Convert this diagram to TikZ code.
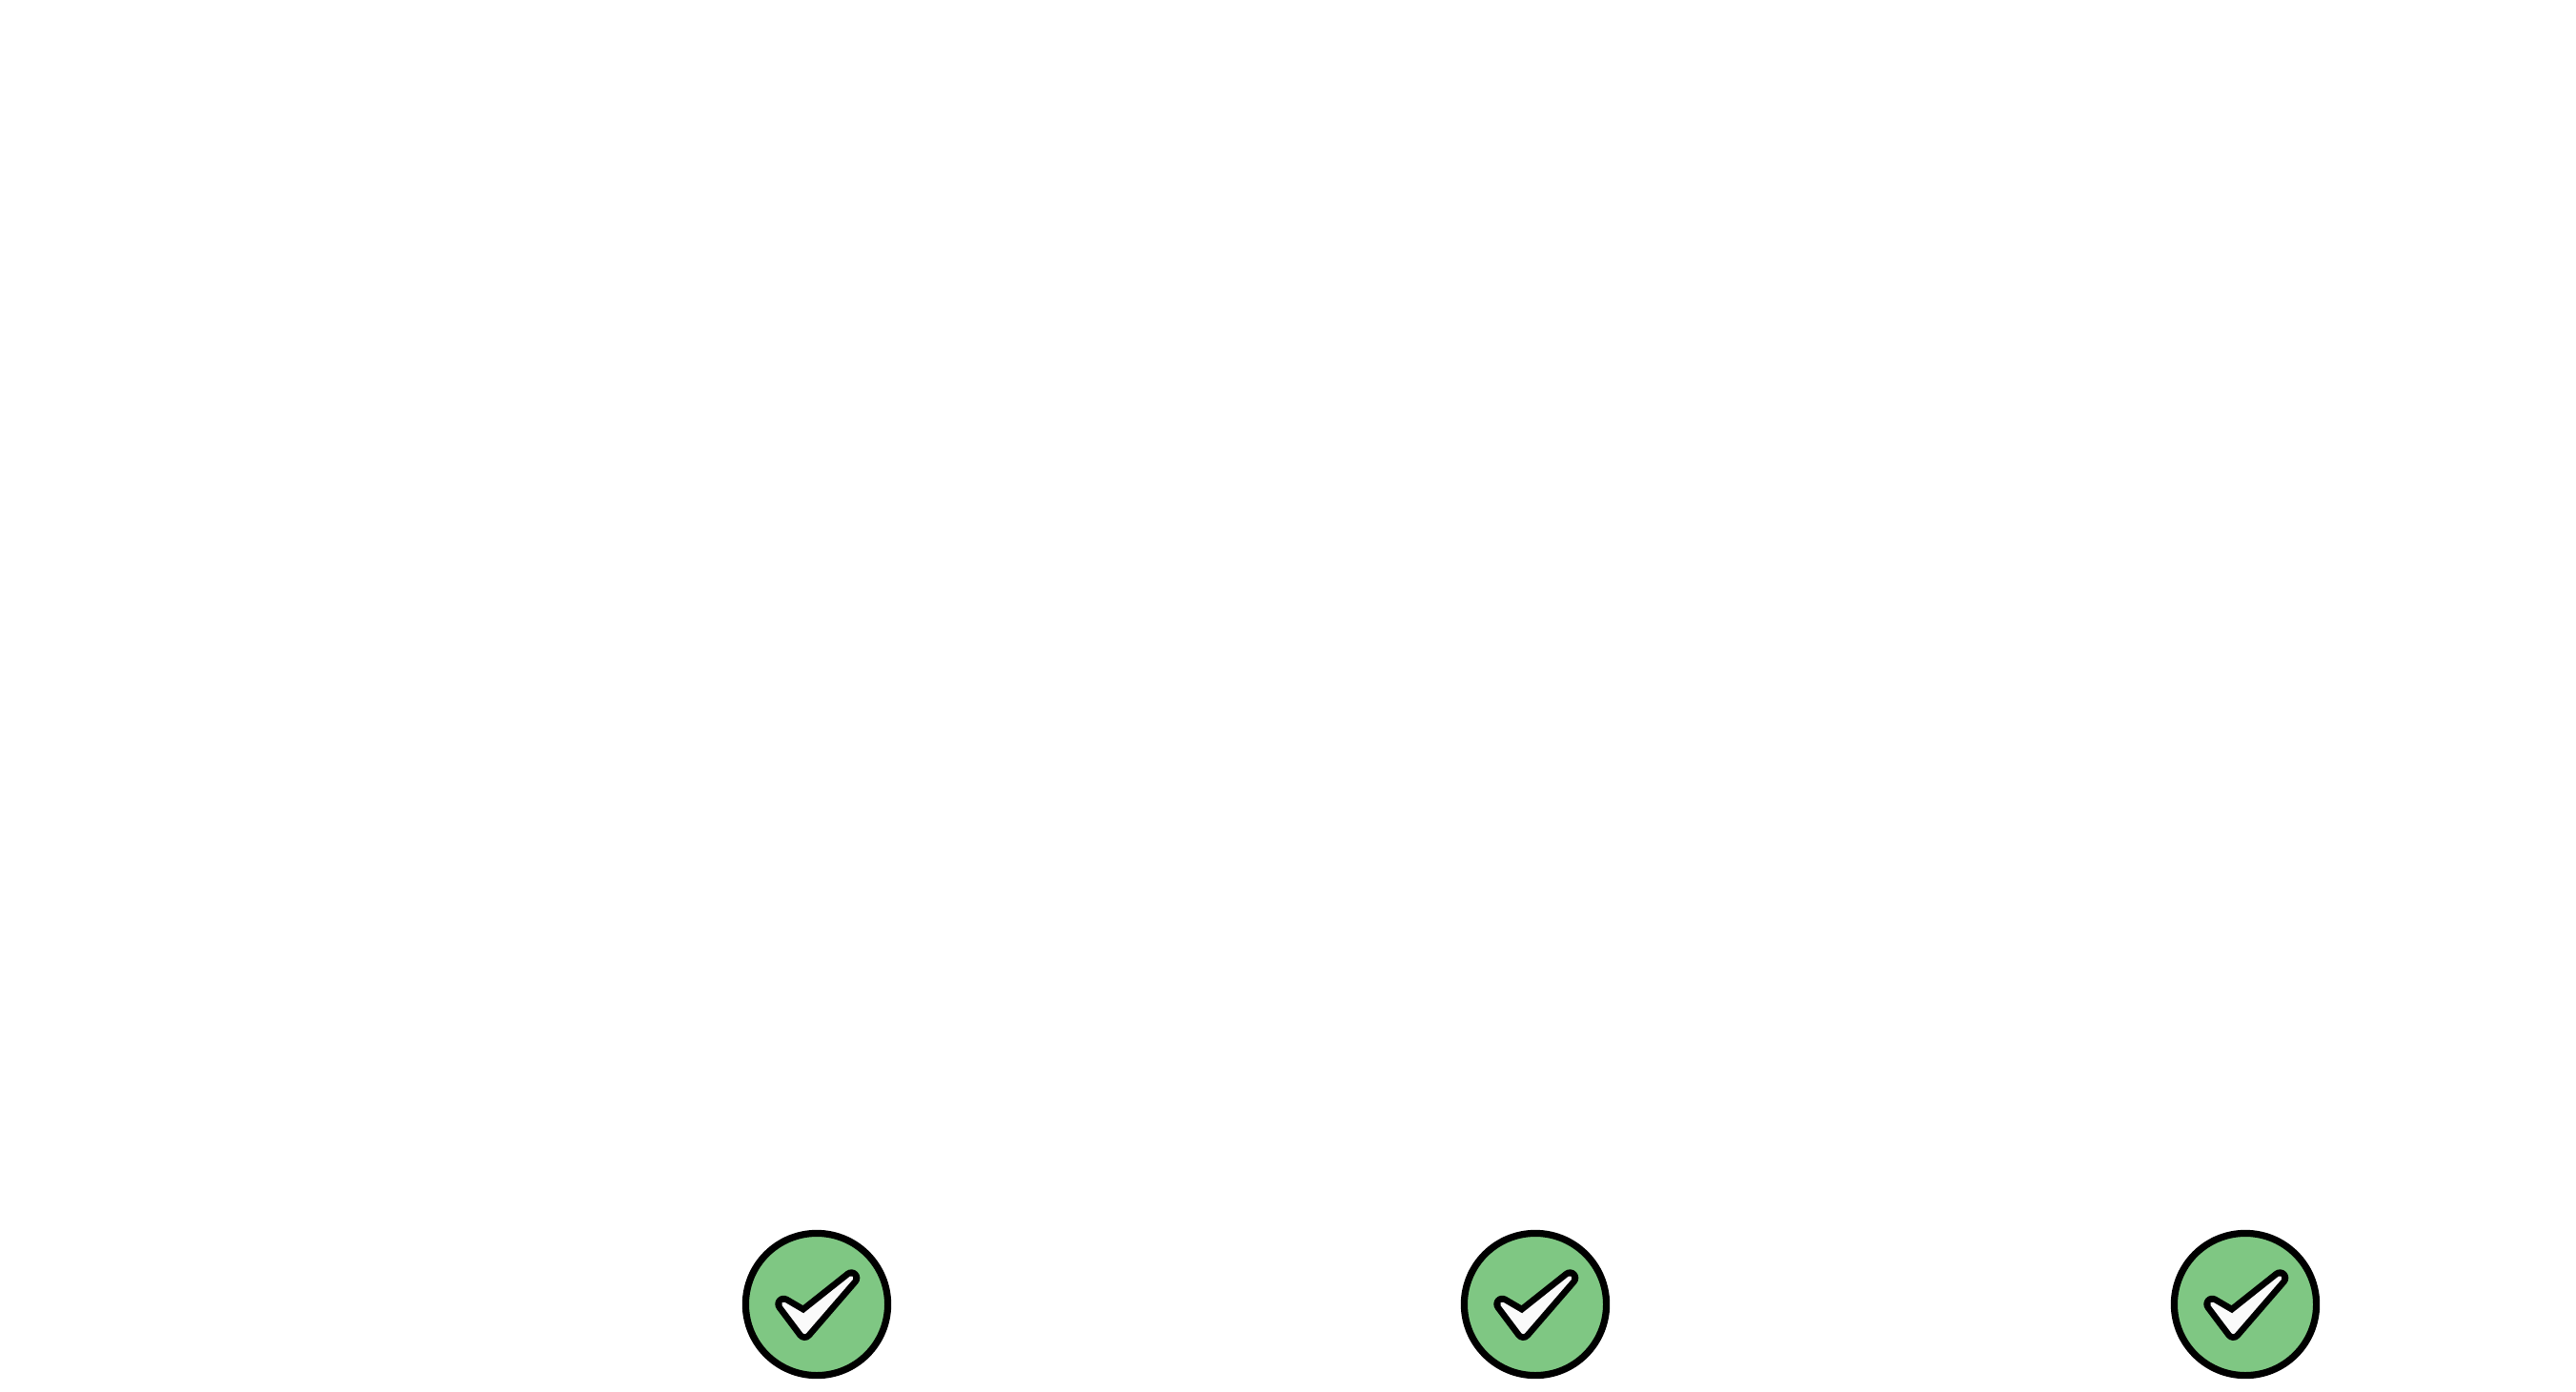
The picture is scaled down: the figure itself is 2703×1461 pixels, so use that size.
\documentclass[tikz,border=0pt]{standalone}
\definecolor{okgreen}{HTML}{7FC783}
\definecolor{okwhite}{HTML}{FAFAFA}
\tikzset{
  okcircle/.style={circle,draw=black,fill=okgreen,line width=3.6pt,minimum size=74.6pt,inner sep=0pt},
  okshape/.style={line join=round},
  pics/okcheck/.style={code={
    \path[okshape,draw=black,fill=black,line width=9pt]
      (-34.7,-0.3) -- (-13.7,12) -- (36.3,-27.7) -- (-12.7,29) -- cycle;
    \path[okshape,draw=okwhite,fill=okwhite,line width=2.2pt]
      (-34.7,-0.3) -- (-13.7,12) -- (36.3,-27.7) -- (-12.7,29) -- cycle;
  }}
}
\begin{document}
\begin{tikzpicture}[x=0.5pt,y=-0.5pt]
\useasboundingbox[fill=white] (0,0) rectangle (2703,1461);
\node[okcircle] (ok1) at (857,1369) {};
\node[okcircle] (ok2) at (1611,1369) {};
\node[okcircle] (ok3) at (2356,1369) {};
\pic at (ok1.center) {okcheck};
\pic at (ok2.center) {okcheck};
\pic at (ok3.center) {okcheck};
\end{tikzpicture}
\end{document}
